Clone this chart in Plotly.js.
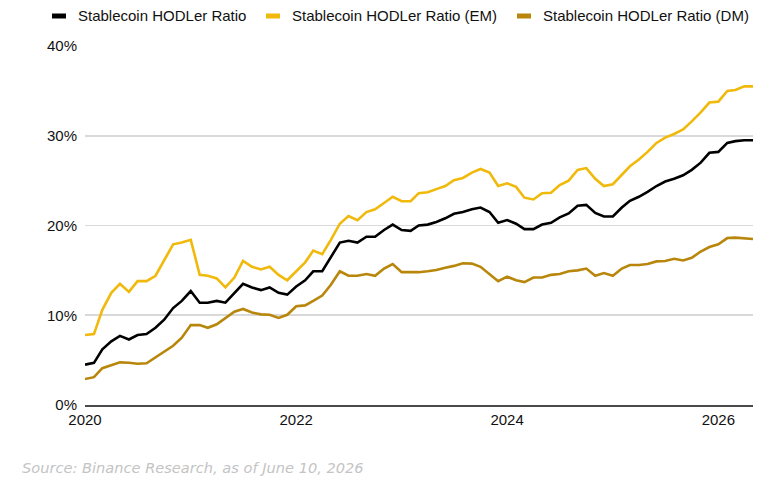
<!DOCTYPE html>
<html>
<head>
<meta charset="utf-8" />
<script src="https://cdn.plot.ly/plotly-3.0.1.min.js"></script>
<style>
  html, body { margin: 0; padding: 0; background: #ffffff; }
  #chart { width: 780px; height: 493px; }
</style>
</head>
<body>
<div id="chart"></div>
<script>
// monthly readings, Jan 2020 .. May 2026 (percent)
const START_YEAR = 2020;
const START_MONTH = 1;

const seriesNames = [
  "Stablecoin HODLer Ratio",
  "Stablecoin HODLer Ratio (EM)",
  "Stablecoin HODLer Ratio (DM)",
];
const seriesColors = ["#000000", "#f0b90b", "#b8860b"];

const hodlerAll = [
  4.5, 4.7, 6.2, 7.1, 7.7, 7.3, 7.8, 7.9, 8.6, 9.5, 10.8, 11.6,
  12.7, 11.4, 11.4, 11.6, 11.4, 12.5, 13.5, 13.1, 12.8, 13.1, 12.5, 12.3,
  13.2, 13.9, 14.9, 14.9, 16.4, 18.1, 18.3, 18.1, 18.75, 18.75, 19.5, 20.1,
  19.5, 19.4, 20.0, 20.1, 20.4, 20.8, 21.3, 21.5, 21.8, 22.0, 21.5, 20.3,
  20.6, 20.2, 19.6, 19.6, 20.1, 20.3, 20.9, 21.35, 22.2, 22.3, 21.4, 21.0,
  21.0, 22.0, 22.75, 23.2, 23.75, 24.4, 24.9, 25.2, 25.6, 26.2, 27.0, 28.1,
  28.2, 29.2, 29.4, 29.5, 29.5,
];

const hodlerEM = [
  7.8, 7.9, 10.6, 12.5, 13.5, 12.6, 13.8, 13.8, 14.4, 16.2, 17.9, 18.1,
  18.4, 14.5, 14.4, 14.1, 13.1, 14.2, 16.05, 15.4, 15.1, 15.4, 14.5, 13.9,
  14.9, 15.9, 17.2, 16.8, 18.4, 20.2, 21.05, 20.6, 21.5, 21.8, 22.5, 23.2,
  22.7, 22.7, 23.6, 23.7, 24.05, 24.4, 25.05, 25.3, 25.9, 26.3, 25.9, 24.4,
  24.7, 24.3, 23.1, 22.9, 23.6, 23.65, 24.5, 25.0, 26.2, 26.4, 25.2, 24.4,
  24.6, 25.6, 26.6, 27.35, 28.2, 29.2, 29.8, 30.2, 30.7, 31.6, 32.6, 33.7,
  33.8, 35.0, 35.1, 35.5, 35.5,
];

const hodlerDM = [
  2.9, 3.1, 4.1, 4.4, 4.75, 4.7, 4.6, 4.65, 5.3, 5.9, 6.6, 7.5,
  8.9, 8.9, 8.6, 9.0, 9.7, 10.4, 10.7, 10.3, 10.1, 10.05, 9.7, 10.05,
  11.0, 11.1, 11.6, 12.2, 13.4, 14.9, 14.4, 14.4, 14.6, 14.4, 15.2, 15.7,
  14.8, 14.8, 14.8, 14.9, 15.05, 15.3, 15.5, 15.8, 15.75, 15.4, 14.6, 13.8,
  14.3, 13.9, 13.7, 14.2, 14.2, 14.5, 14.6, 14.9, 15.0, 15.2, 14.4, 14.7,
  14.4, 15.2, 15.6, 15.6, 15.7, 16.0, 16.05, 16.3, 16.1, 16.4, 17.1, 17.6,
  17.9, 18.6, 18.65, 18.6, 18.5,
];

const yearTicks = ["2020", "2022", "2024", "2026"];
const yTicks = [0, 10, 20, 30, 40];
const sourceNote = "Source: Binance Research, as of June 10, 2026";

function monthDates(n) {
  const out = [];
  for (let i = 0; i < n; i++) {
    const y = START_YEAR + Math.floor((START_MONTH - 1 + i) / 12);
    const m = ((START_MONTH - 1 + i) % 12) + 1;
    out.push(`${y}-${String(m).padStart(2, "0")}-01`);
  }
  return out;
}

const dates = monthDates(hodlerAll.length);
const allSeries = [hodlerAll, hodlerEM, hodlerDM];

// plot area in pixels
const W = 780, H = 493;
const M = { l: 85, r: 27, t: 46, b: 88 };
const plotW = W - M.l - M.r;
const plotH = H - M.t - M.b;
const px = (x) => (x - M.l) / plotW;
const py = (y) => (H - M.b - y) / plotH;

const traces = allSeries.map((vals, k) => ({
  type: "scatter",
  mode: "lines",
  name: seriesNames[k],
  x: dates,
  y: vals,
  line: { color: seriesColors[k], width: 2.6 },
  hovertemplate: "%{x|%b %Y}: %{y:.1f}%<extra>" + seriesNames[k] + "</extra>",
  showlegend: false,
}));

// hand-built legend: short thick swatch + label
const legendX = [52, 266, 517];
const legendY = 16;
const shapes = legendX.map((x, k) => ({
  type: "rect",
  xref: "paper",
  yref: "paper",
  x0: px(x),
  x1: px(x + 14),
  y0: py(legendY + 2.5),
  y1: py(legendY - 2.5),
  fillcolor: seriesColors[k],
  line: { width: 0 },
}));

const annotations = legendX.map((x, k) => ({
  xref: "paper",
  yref: "paper",
  x: px(x + 24),
  y: py(legendY),
  xanchor: "left",
  yanchor: "middle",
  showarrow: false,
  text: seriesNames[k],
  font: { family: "Liberation Sans, Arial, sans-serif", size: 15, color: "#111111" },
}));

annotations.push({
  xref: "paper",
  yref: "paper",
  x: px(20),
  y: py(467),
  xanchor: "left",
  yanchor: "middle",
  showarrow: false,
  text: "<i>" + sourceNote + "</i>",
  font: { family: "DejaVu Sans, sans-serif", size: 14.6, color: "#c4c4c4" },
});

const tickFont = { family: "Liberation Sans, Arial, sans-serif", size: 15, color: "#111111" };

const layout = {
  width: W,
  height: H,
  margin: M,
  paper_bgcolor: "#ffffff",
  plot_bgcolor: "#ffffff",
  showlegend: false,
  xaxis: {
    type: "date",
    range: [dates[0], dates[dates.length - 1]],
    tickvals: yearTicks.map((y) => `${y}-01-01`),
    ticktext: yearTicks,
    showgrid: false,
    showline: true,
    linecolor: "#4a4a4a",
    linewidth: 2,
    ticks: "",
    zeroline: false,
    tickfont: tickFont,
    fixedrange: true,
  },
  yaxis: {
    range: [0, 40],
    tickvals: yTicks,
    ticktext: yTicks.map((v) => v + "%"),
    showgrid: true,
    gridcolor: "#d9d9d9",
    gridwidth: 1.6,
    zeroline: false,
    showline: false,
    ticks: "",
    ticklabelstandoff: 7,
    tickfont: tickFont,
    fixedrange: true,
  },
  shapes,
  annotations,
};

Plotly.newPlot("chart", traces, layout, { displayModeBar: false, staticPlot: true });
</script>
</body>
</html>
